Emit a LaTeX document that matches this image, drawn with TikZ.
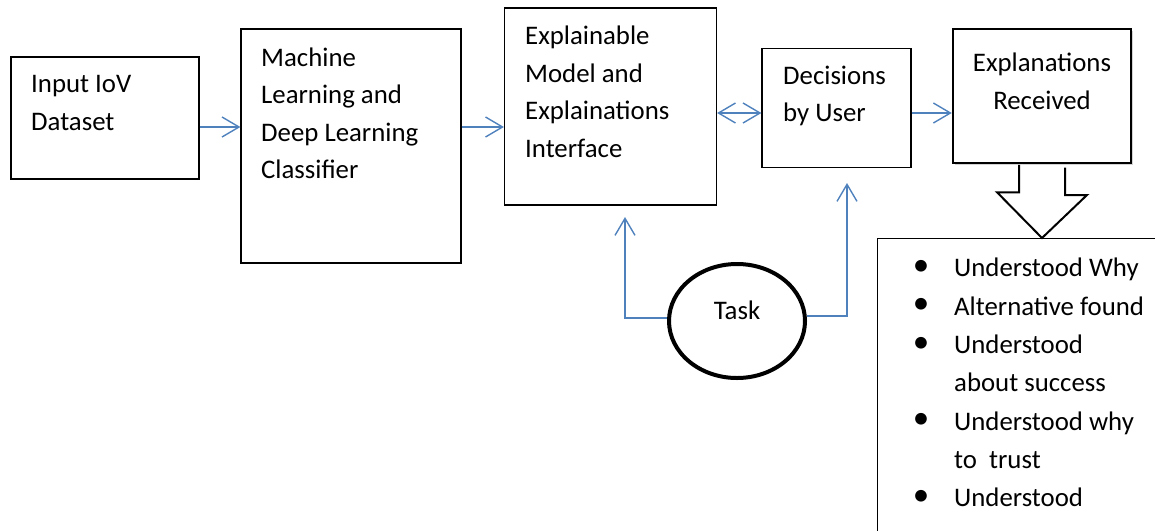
\documentclass[tikz,border=0pt]{standalone}
\usepackage{fontspec}
\setmainfont{Carlito}
\usetikzlibrary{arrows.meta,shapes.geometric,shadows}
\definecolor{arrowColor}{RGB}{79,129,189}

\begin{document}
\begin{tikzpicture}[x=1pt,y=-1pt,
  box/.style={draw, line width=1.2pt, inner sep=0pt},
  txt/.style={inner sep=0pt, align=left, anchor=west, font=\fontsize{26.8}{37.5}\selectfont},
  flow/.style={draw=arrowColor, line width=1.4pt, -{Straight Barb[length=17pt,width=20pt]}},
  dflow/.style={flow, {Straight Barb[length=17pt,width=20pt]}-{Straight Barb[length=17pt,width=20pt]}}]
  \useasboundingbox (0,0) rectangle (1155,530);
  \clip (0,0) rectangle (1155,530);
  % Boxes
  \node[box, minimum width=188, minimum height=122] (input) at (105,118) {};
  \node[box, minimum width=220, minimum height=234] (classifier) at (351,146) {};
  \node[box, minimum width=212, minimum height=197] (explain) at (610.5,106.5) {};
  \node[box, minimum width=149, minimum height=119.5] (decide) at (836.5,108) {};
  \node[box, anchor=north west, minimum width=300, minimum height=330] (list) at (877,238) {};
  \node[box, line width=2pt, fill=white, minimum width=178.5, minimum height=133.5,
    drop shadow={shadow xshift=2pt, shadow yshift=-2pt, opacity=.35}] (received) at (1042,96) {};
  \node[draw, ellipse, line width=4pt, minimum width=136, minimum height=114] (task) at (737,321) {};
  % Block arrow
  \draw[line width=2pt, fill=white] ([xshift=-23pt,yshift=-1pt]received.south) -- ++(0,27.5)
    -- ++(-22,0) -- (list.north -| received.south) -- ++(45,-43) -- ++(-22,0) -- ++(0,-27.5);
  % Texts
  \node[txt] (inputText) at (31,103) {Input IoV\\Dataset};
  \node[txt] (classifierText) at (261,113.5) {Machine\\Learning and\\Deep Learning\\Classifier};
  \node[txt] (explainText) at (525,92) {Explainable\\Model and\\Explainations\\Interface};
  \node[txt] (decideText) at (783,96) {Decisions\\by User};
  \node[txt, align=center, anchor=center] (receivedText) at (1042,81.5) {Explanations\\Received};
  \node[txt, anchor=center] (taskText) at (737,310) {Task};
  \node[txt, font=\fontsize{26.8}{38.3}\selectfont] (listText) at (954,382.5)
    {Understood Why\\Alternative found\\Understood\\about success\\Understood why\\to\ \ trust\\Understood};
  \foreach \y [count=\i] in {268,306,345,421,498}
    \node[txt, anchor=center, font=\fontsize{33}{38}\selectfont] (bullet\i) at (921,\y) {•};
  % Arrows
  \coordinate (inA) at ([yshift=-9pt]input.east);
  \coordinate (clA) at ([yshift=19pt]classifier.east);
  \coordinate (deA) at ([yshift=-5pt]decide.west);
  \coordinate (deB) at ([yshift=-5pt]decide.east);
  \coordinate (upExplain) at (625,217);
  \coordinate (upDecide) at (847,183);
  \draw[flow] (inA) -- (inA -| classifier.west);
  \draw[flow] (clA) -- (clA -| explain.west);
  \draw[dflow] (explain.east |- deA) -- (deA);
  \draw[flow] (deB) -- (deB -| received.west);
  \draw[flow] ([yshift=3pt]task.west) -| (upExplain);
  \draw[flow] ([yshift=5pt]task.east) -| (upDecide);
\end{tikzpicture}
\end{document}
